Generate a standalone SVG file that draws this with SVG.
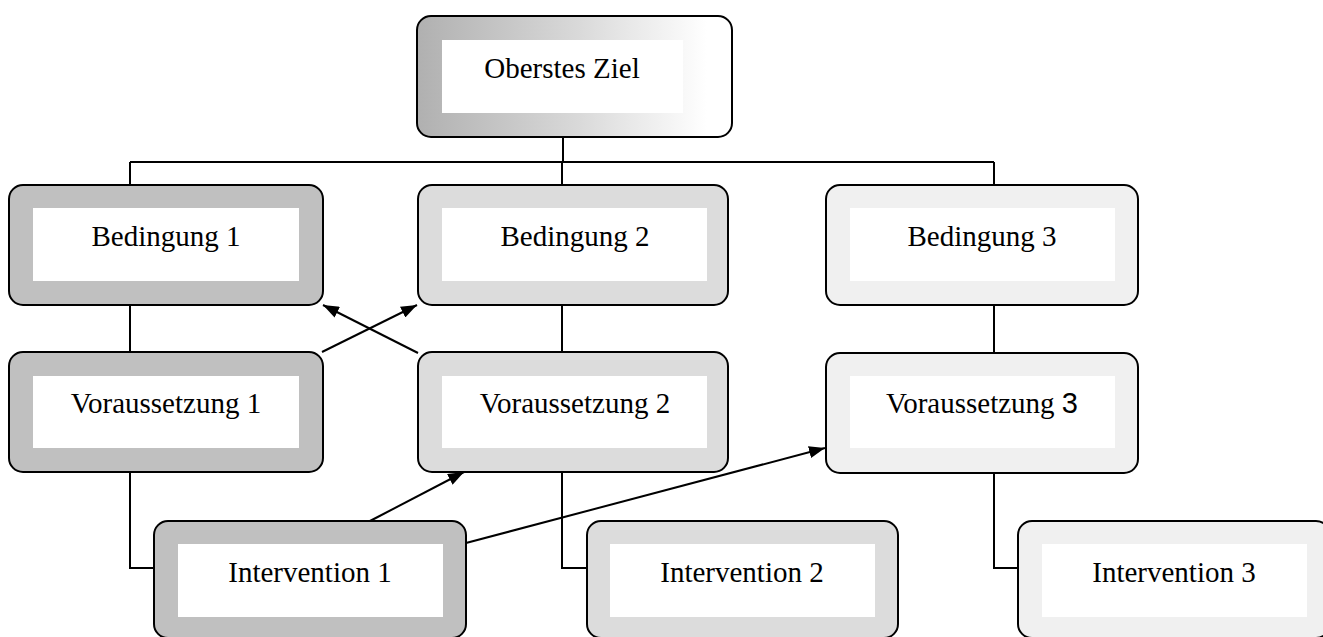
<svg xmlns="http://www.w3.org/2000/svg" width="1323" height="637" viewBox="0 0 1323 637">
<style>
.box{stroke:#000;stroke-width:2}
.c1{fill:#c0c0c0}.c2{fill:#dcdcdc}.c3{fill:#f0f0f0}
.in{fill:#fff}
.t{font-family:"Liberation Serif","Times New Roman",serif;font-size:29px;fill:#000;text-anchor:middle}
.s{font-family:"Liberation Sans",Arial,sans-serif}
.ln{fill:none;stroke:#000;stroke-width:2}
</style>
<defs>
<linearGradient id="g" x1="0" y1="0" x2="1" y2="0">
<stop offset="0" stop-color="#b0b0b0"/>
<stop offset="0.5" stop-color="#d8d8d8"/>
<stop offset="0.92" stop-color="#ffffff"/>
<stop offset="1" stop-color="#ffffff"/>
</linearGradient>
<marker id="ah" markerUnits="userSpaceOnUse" markerWidth="16" markerHeight="12" refX="16" refY="6" orient="auto">
<path d="M0,0 L16,6 L0,12 z" fill="#000"/>
</marker>
</defs>
<rect width="1323" height="637" fill="#fff"/>
<g id="connectors">
<path class="ln" d="M563,137 V162 M130,162 H994 M130,162 V185 M562,162 V185 M994,162 V185"/>
<path class="ln" d="M130,305 V352 M562,305 V352 M994,305 V353"/>
<path class="ln" d="M130,472 V568 H154 M562,472 V568 H587 M994,473 V568 H1018"/>
<line class="ln" x1="322" y1="352" x2="417" y2="305" marker-end="url(#ah)"/>
<line class="ln" x1="418" y1="353" x2="323" y2="305" marker-end="url(#ah)"/>
<line class="ln" x1="370" y1="521" x2="464" y2="472" marker-end="url(#ah)"/>
<line class="ln" x1="466" y1="543" x2="825" y2="448" marker-end="url(#ah)"/>
</g>
<g id="ziel">
<rect class="box" x="417" y="16" width="315" height="121" rx="14" fill="url(#g)"/>
<rect class="in" x="442" y="40" width="241" height="73"/>
<text class="t" x="562" y="78">Oberstes Ziel</text>
</g>
<g id="bedingung1">
<rect class="box c1" x="9" y="185" width="314" height="120" rx="14"/>
<rect class="in" x="33" y="208" width="266" height="73"/>
<text class="t" x="166" y="246">Bedingung 1</text>
</g>
<g id="bedingung2">
<rect class="box c2" x="418" y="185" width="310" height="120" rx="14"/>
<rect class="in" x="442" y="208" width="265" height="73"/>
<text class="t" x="575" y="246">Bedingung 2</text>
</g>
<g id="bedingung3">
<rect class="box c3" x="826" y="185" width="312" height="120" rx="14"/>
<rect class="in" x="850" y="208" width="265" height="73"/>
<text class="t" x="982" y="246">Bedingung 3</text>
</g>
<g id="voraussetzung1">
<rect class="box c1" x="9" y="352" width="314" height="120" rx="14"/>
<rect class="in" x="33" y="376" width="266" height="72"/>
<text class="t" x="166" y="413">Voraussetzung 1</text>
</g>
<g id="voraussetzung2">
<rect class="box c2" x="418" y="352" width="310" height="120" rx="14"/>
<rect class="in" x="442" y="376" width="265" height="72"/>
<text class="t" x="575" y="413">Voraussetzung 2</text>
</g>
<g id="voraussetzung3">
<rect class="box c3" x="826" y="353" width="312" height="120" rx="14"/>
<rect class="in" x="850" y="376" width="265" height="72"/>
<text class="t" x="982" y="413">Voraussetzung <tspan class="s">3</tspan></text>
</g>
<g id="intervention1">
<rect class="box c1" x="154" y="521" width="312" height="117" rx="14"/>
<rect class="in" x="178" y="544" width="265" height="73"/>
<text class="t" x="310" y="582">Intervention 1</text>
</g>
<g id="intervention2">
<rect class="box c2" x="587" y="521" width="311" height="117" rx="14"/>
<rect class="in" x="610" y="544" width="265" height="73"/>
<text class="t" x="742" y="582">Intervention 2</text>
</g>
<g id="intervention3">
<rect class="box c3" x="1018" y="521" width="312" height="117" rx="14"/>
<rect class="in" x="1042" y="544" width="265" height="73"/>
<text class="t" x="1174" y="582">Intervention 3</text>
</g>
</svg>
